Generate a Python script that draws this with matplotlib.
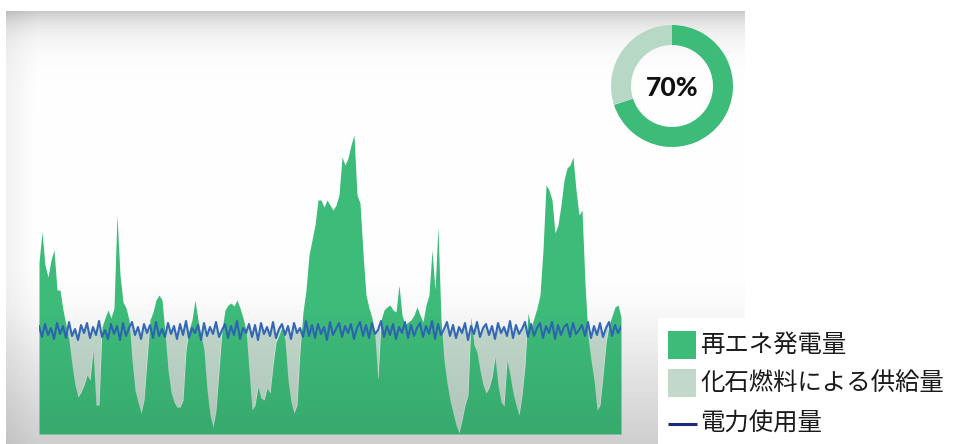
import numpy as np
import matplotlib
matplotlib.use("Agg")
import matplotlib.pyplot as plt
from matplotlib.patches import Rectangle

# Hourly supply/demand profile (arbitrary power units)
renewable = [
    172, 202, 169, 157, 174, 184, 144, 144, 124, 109, 94, 69, 49, 37, 42,
    49, 59, 54, 84, 29, 29, 107, 116, 124, 116, 126, 219, 159, 132, 126,
    114, 74, 44, 32, 21, 34, 74, 114, 122, 134, 139, 134, 101, 64, 42,
    32, 27, 27, 34, 84, 104, 114, 134, 114, 99, 84, 44, 19, 7, 24,
    64, 104, 124, 129, 131, 128, 134, 126, 116, 104, 64, 24, 29, 47, 36,
    34, 46, 41, 69, 92, 99, 107, 94, 54, 32, 21, 29, 84, 122, 144,
    179, 194, 209, 234, 234, 227, 234, 229, 224, 229, 239, 277, 269, 276, 289,
    299, 239, 231, 181, 139, 126, 116, 97, 54, 114, 124, 127, 129, 124, 122,
    149, 119, 109, 112, 114, 119, 127, 119, 112, 129, 139, 184, 144, 207, 114,
    74, 51, 34, 21, 9, 1, 14, 29, 39, 117, 89, 82, 64, 49, 41,
    46, 57, 77, 49, 32, 28, 74, 59, 41, 29, 19, 39, 69, 121, 106,
    116, 126, 139, 184, 249, 244, 234, 201, 209, 229, 254, 266, 269, 277, 244,
    219, 224, 151, 97, 74, 54, 24, 29, 59, 91, 109, 118, 127, 129, 117,
]

demand = [
    108, 97, 110, 99, 106, 95, 111, 100, 108, 96, 112, 98, 105, 94, 109,
    101, 111, 96, 107, 99, 113, 97, 104, 95, 110, 100, 108, 94, 111, 98,
    106, 112, 99, 107, 95, 110, 101, 109, 96, 112, 98, 105, 97, 111, 100,
    108, 95, 110, 99, 113, 96, 106, 101, 109, 94, 111, 98, 107, 100, 112,
    97, 104, 110, 96, 108, 99, 113, 95, 106, 101, 110, 97, 109, 94, 111,
    100, 107, 98, 112, 96, 105, 110, 99, 108, 95, 111, 101, 106, 97, 113,
    98, 109, 96, 110, 100, 107, 94, 112, 99, 105, 111, 97, 108, 101, 110,
    95, 106, 112, 98, 109, 96, 111, 100, 104, 113, 97, 108, 99, 110, 95,
    107, 101, 112, 96, 109, 98, 106, 111, 97, 108, 100, 113, 95, 110, 99,
    105, 112, 98, 109, 96, 107, 101, 111, 94, 108, 100, 112, 97, 106, 110,
    99, 108, 95, 111, 101, 107, 98, 113, 96, 109, 100, 105, 112, 97, 110,
    98, 106, 111, 96, 108, 101, 112, 95, 109, 99, 107, 110, 97, 111, 100,
    104, 109, 98, 112, 96, 108, 99, 111, 97, 106, 112, 98, 109, 101, 107,
]

renewable_share = [70, 30]
legend_labels = ["再エネ発電量", "化石燃料による供給量", "電力使用量"]

GREEN = "#3dbb79"
FOSSIL = "#c1d8cb"
DONUT_LIGHT = "#b6d8c4"
DEMAND_BLUE = "#2d63b6"
NAVY = "#1b2a7a"

W, H = 956, 444
fig = plt.figure(figsize=(W / 100, H / 100), dpi=100)
fig.patch.set_facecolor("white")

# --- background panel with shaded top edge -------------------------------
bg = fig.add_axes([0, 0, 1, 1], zorder=0)
bg.set_xlim(0, W)
bg.set_ylim(H, 0)
bg.axis("off")
px0, px1, py0, py1 = 6, 745, 12, 444
yy, xx = np.mgrid[py0:py1, px0:px1]
shade = 0.21 * np.exp(-(yy - py0) / 17.0)
shade += 0.10 * np.clip((yy - 270) / 174.0, 0, 1)
shade += 0.05 * np.clip((30 - (xx - px0)) / 30.0, 0, 1)
grey = np.clip(1 - shade, 0, 1)
bg.imshow(np.dstack([grey, grey, grey]), extent=[px0, px1, py1, py0],
          aspect="auto", interpolation="bilinear", zorder=0)

# --- main area chart -------------------------------------------------------
x = np.arange(len(renewable))
ren = np.array(renewable, dtype=float)
dem = np.array(demand, dtype=float)

ax = fig.add_axes([39 / W, (H - 434) / H, 582 / W, 314 / H], zorder=1)
ax.patch.set_alpha(0)
ax.fill_between(x, ren, dem, where=ren < dem, interpolate=True,
                color=FOSSIL, linewidth=0)
ax.fill_between(x, 0, ren, color=GREEN, linewidth=0)
ax.plot(x, dem, color=DEMAND_BLUE, linewidth=1.5, alpha=0.95)
ax.set_xlim(0, len(renewable) - 1)
ax.set_ylim(0, 314)
ax.axis("off")

# soft darkening toward the bottom of the panel
ov = fig.add_axes([0, 0, 1, 1], zorder=2)
ov.set_xlim(0, W)
ov.set_ylim(H, 0)
ov.axis("off")
ov.patch.set_alpha(0)
oy = np.linspace(0, 1, 200)[:, None] * np.ones((1, 4))
alpha = 0.10 * np.clip((oy - 0.35) / 0.65, 0, 1)
rgba = np.dstack([np.zeros_like(oy)] * 3 + [alpha])
ov.imshow(rgba, extent=[px0, px1, 444, 230], aspect="auto",
          interpolation="bilinear")

# --- donut with renewable share --------------------------------------------
cx, cy, r = 672, 86, 61
dax = fig.add_axes([(cx - r) / W, (H - cy - r) / H, 2 * r / W, 2 * r / H],
                   zorder=3)
dax.pie(renewable_share, colors=[GREEN, DONUT_LIGHT], startangle=90,
        counterclock=False, radius=1.0,
        wedgeprops=dict(width=20 / 61, linewidth=0))
dax.set_xlim(-1, 1)
dax.set_ylim(-1, 1)
dax.set_aspect("auto")
dax.text(0, -0.04, f"{renewable_share[0]}%", ha="center", va="center",
         fontsize=19, fontweight=900, family=["Lato", "DejaVu Sans"],
         color="#111111")

# --- legend box -------------------------------------------------------------
lg = fig.add_axes([0, 0, 1, 1], zorder=4)
lg.set_xlim(0, W)
lg.set_ylim(H, 0)
lg.axis("off")
lg.patch.set_alpha(0)
lg.add_patch(Rectangle((658, 318), W - 658, H - 318, facecolor="white",
                       edgecolor="none"))
lg.add_patch(Rectangle((668, 331), 28, 28, facecolor=GREEN, edgecolor="none"))
lg.add_patch(Rectangle((668, 369), 28, 28, facecolor=FOSSIL, edgecolor="none"))
lg.plot([668, 697], [424, 424], color=NAVY, linewidth=2.2,
        solid_capstyle="butt")
jp = ["Noto Sans CJK JP", "DejaVu Sans"]
for label, yc in zip(legend_labels, [345, 383, 423]):
    lg.text(700, yc, label, ha="left", va="center", fontsize=17.6,
            family=jp, color="#1a1a1a")

fig.savefig("out.png", dpi=100)
